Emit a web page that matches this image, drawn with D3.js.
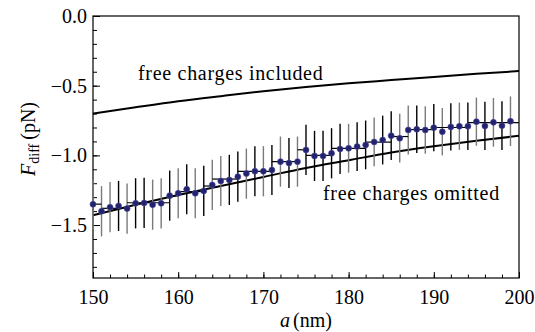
<!DOCTYPE html>
<html>
<head>
<meta charset="utf-8">
<script src="https://cdn.jsdelivr.net/npm/d3@7"></script>
<style>
  body { margin: 0; background: #fff; }
</style>
</head>
<body>
<svg width="535" height="332"></svg>
<script>
const width = 535
const height = 332
const margin = {top: 16, right: 16, bottom: 54, left: 93}
const serif = "'Liberation Serif', 'Times New Roman', 'DejaVu Serif', serif"

// measured points (nm, pN)
const separations = [150,151,152,153,154,155,156,157,158,159,160,161,162,163,164,165,166,167,168,169,
                     170,171,172,173,174,175,176,177,178,179,180,181,182,183,184,185,186,187,188,189,
                     190,191,192,193,194,195,196,197,198,199]
const forces = [-1.351,-1.401,-1.372,-1.363,-1.382,-1.344,-1.341,-1.354,-1.344,-1.289,
                -1.272,-1.243,-1.272,-1.255,-1.212,-1.184,-1.176,-1.153,-1.131,-1.114,
                -1.114,-1.105,-1.045,-1.055,-1.045,-0.961,-1.004,-1.004,-0.985,-0.954,
                -0.949,-0.937,-0.925,-0.904,-0.890,-0.859,-0.877,-0.818,-0.813,-0.818,
                -0.801,-0.830,-0.796,-0.791,-0.791,-0.758,-0.789,-0.763,-0.787,-0.755]
const errors = [0.18,0.18,0.18,0.18,0.18,0.18,0.18,0.18,0.18,0.18,
                0.18,0.18,0.18,0.18,0.18,0.18,0.18,0.18,0.18,0.18,
                0.18,0.18,0.18,0.18,0.18,0.18,0.18,0.18,0.18,0.18,
                0.175,0.175,0.175,0.175,0.175,0.175,0.175,0.175,0.17,0.17,
                0.17,0.17,0.17,0.17,0.17,0.173,0.173,0.175,0.175,0.178]
// 1 = black error bar, 0 = grey error bar
const darkBar = [0,0,0,1,0,1,1,0,0,1,0,1,0,1,0,0,1,1,0,1,
                 0,1,0,1,0,1,1,1,1,1,0,1,1,0,1,1,0,0,1,0,
                 1,0,1,0,1,0,1,0,1,0]

// binned staircase
const stepStart = [150,151,154,159,160,163,164,167,171,174,175,178,182,185,187,190,194]
const stepEnd   = [151,154,159,160,163,164,167,171,174,175,178,182,185,187,190,194,200]
const stepLevel = [-1.35,-1.38,-1.34,-1.29,-1.26,-1.22,-1.17,-1.115,-1.045,-0.96,-1.0,-0.95,-0.905,-0.865,-0.815,-0.80,-0.765]

// theory curves
const theoryA = [150,155,160,165,170,175,180,185,190,195,200]
const omitted  = [-1.43,-1.355,-1.285,-1.22,-1.155,-1.09,-1.035,-0.98,-0.935,-0.895,-0.86]
const included = [-0.70,-0.655,-0.612,-0.575,-0.54,-0.51,-0.483,-0.46,-0.437,-0.415,-0.395]

const xMajor = [150,160,170,180,190,200]
const yMajor = [0,-0.5,-1,-1.5]

const svg = d3.select("svg")
const iw = width - margin.left - margin.right
const ih = height - margin.top - margin.bottom
const g = svg.append("g").attr("transform","translate("+margin.left+","+margin.top+")")

const x = d3.scaleLinear().domain([150,200]).range([0, iw])
const y = d3.scaleLinear().domain([-1.88,0]).range([ih, 0])

// axes
const xAxis = g.append("g").attr("transform","translate(0,"+ih+")")
  .call(d3.axisBottom(x).tickValues(xMajor).tickFormat(d3.format("d")).tickSize(-6).tickPadding(12))
xAxis.append("g").call(d3.axisBottom(x).tickValues(d3.range(150,201,2)).tickFormat("").tickSize(-3.5))
const yAxis = g.append("g")
  .call(d3.axisLeft(y).tickValues(yMajor).tickFormat(d3.format(".1f")).tickSize(-7).tickPadding(6))
yAxis.append("g").call(d3.axisLeft(y).tickValues(d3.range(-18,1).map(d => d/10)).tickFormat("").tickSize(-4))
g.selectAll(".domain").remove()
g.selectAll(".tick line").attr("stroke","#000").attr("stroke-width",1)
xAxis.attr("font-family", null)
yAxis.attr("font-family", null)
g.selectAll(".tick text").style("font-size","20px").style("font-family", serif).attr("fill","#000")

g.append("rect").attr("x",0).attr("y",0).attr("width",iw).attr("height",ih)
  .attr("fill","none").attr("stroke","#000").attr("stroke-width",1.2)

// theory curves
const line = d3.line().x(d => x(d[0])).y(d => y(d[1])).curve(d3.curveMonotoneX)
g.append("path").datum(theoryA.map((a,i) => [a, included[i]]))
  .attr("d", line).attr("fill","none").attr("stroke","#000").attr("stroke-width",2)
g.append("path").datum(theoryA.map((a,i) => [a, omitted[i]]))
  .attr("d", line).attr("fill","none").attr("stroke","#000").attr("stroke-width",2)

// error bars
const pts = separations.map((a,i) => ({a: a, f: forces[i], e: errors[i], dark: darkBar[i]}))
g.append("g").selectAll("line").data(pts).enter().append("line")
  .attr("x1", d => x(d.a)).attr("x2", d => x(d.a))
  .attr("y1", d => y(d.f - d.e)).attr("y2", d => y(d.f + d.e))
  .attr("stroke", d => d.dark ? "#000" : "#7a7a7a").attr("stroke-width",1.4)

// staircase
g.append("g").selectAll("line").data(stepLevel).enter().append("line")
  .attr("x1", (d,i) => x(stepStart[i])).attr("x2", (d,i) => x(stepEnd[i]))
  .attr("y1", d => y(d)).attr("y2", d => y(d))
  .attr("stroke","#000").attr("stroke-width",1.2)

// points
g.append("g").selectAll("circle").data(pts).enter().append("circle")
  .attr("cx", d => x(d.a)).attr("cy", d => y(d.f)).attr("r",3)
  .attr("fill","#22226e").attr("stroke","#4a4aa0").attr("stroke-width",0.6)

// annotations
g.append("text").attr("x",138 - margin.left).attr("y",80 - margin.top)
  .style("font-family", serif).style("font-size","20px").style("letter-spacing","0.7px")
  .text("free charges included")
g.append("text").attr("x",323 - margin.left).attr("y",200 - margin.top)
  .style("font-family", serif).style("font-size","20px").style("letter-spacing","0.7px")
  .text("free charges omitted")

// axis labels
const xl = svg.append("text").attr("x",306).attr("y",327).attr("text-anchor","middle")
  .style("font-family", serif).style("font-size","20px")
xl.append("tspan").style("font-style","italic").text("a")
xl.append("tspan").attr("dx",3).text("(nm)")

const yl = svg.append("text").attr("transform","translate(35,139) rotate(-90)").attr("text-anchor","middle")
  .style("font-family", serif).style("font-size","20px")
yl.append("tspan").style("font-style","italic").text("F")
yl.append("tspan").attr("dy",4).style("font-size","14px").text("diff")
yl.append("tspan").attr("dy",-4).attr("dx",4).text("(pN)")
</script>
</body>
</html>
